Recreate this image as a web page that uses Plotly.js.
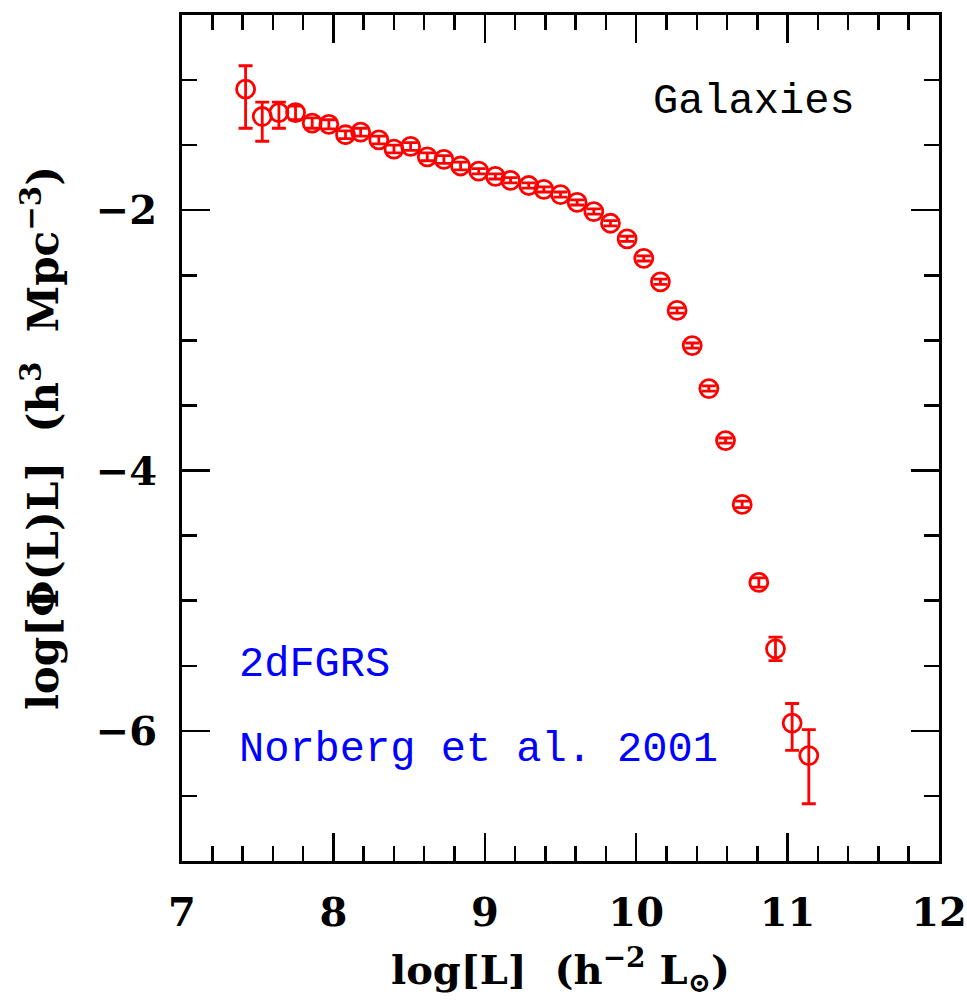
<!DOCTYPE html>
<html>
<head>
<meta charset="utf-8">
<script src="https://cdn.plot.ly/plotly-3.0.1.min.js"></script>
<style>html,body{margin:0;padding:0;background:#fff;}#chart{width:967px;height:1008px;}</style>
</head>
<body>
<div id="chart"></div>
<script>
// log L (h^-2 Lsun)
const logL = [7.42, 7.53, 7.64, 7.75, 7.86, 7.97, 8.08, 8.18, 8.30, 8.40,
              8.51, 8.62, 8.73, 8.84, 8.96, 9.07, 9.17, 9.29, 9.39, 9.50,
              9.61, 9.72, 9.83, 9.94, 10.05, 10.16, 10.27, 10.37, 10.48, 10.59,
              10.70, 10.81, 10.92, 11.03, 11.14];
// log[Phi(L) L] (h^3 Mpc^-3)
const logPhiL = [-1.07, -1.28, -1.25, -1.25, -1.33, -1.34, -1.42, -1.40, -1.46, -1.53,
                 -1.51, -1.59, -1.61, -1.66, -1.70, -1.74, -1.77, -1.81, -1.84, -1.88,
                 -1.94, -2.01, -2.10, -2.22, -2.37, -2.55, -2.77, -3.04, -3.37, -3.77,
                 -4.26, -4.86, -5.37, -5.94, -6.19];
const errPlus = [0.18, 0.11, 0.08, 0.05, 0.04, 0.035, 0.03, 0.03, 0.03, 0.03,
                 0.03, 0.03, 0.03, 0.03, 0.02, 0.02, 0.02, 0.02, 0.02, 0.02,
                 0.02, 0.02, 0.02, 0.02, 0.02, 0.02, 0.02, 0.02, 0.02, 0.02,
                 0.025, 0.035, 0.09, 0.15, 0.20];
const errMinus = [0.30, 0.19, 0.12, 0.055, 0.04, 0.035, 0.03, 0.03, 0.03, 0.03,
                  0.03, 0.03, 0.03, 0.03, 0.02, 0.02, 0.02, 0.02, 0.02, 0.02,
                  0.02, 0.02, 0.02, 0.02, 0.02, 0.02, 0.02, 0.02, 0.02, 0.02,
                  0.025, 0.035, 0.09, 0.21, 0.37];

const xTitle = 'log[L]\u00a0\u00a0(h<sup>\u22122</sup>\u00a0L<sub>\u2299</sub>)';
const yTitle = 'log[\u03A6(L)L]\u00a0\u00a0(h<sup>3</sup>\u00a0\u00a0Mpc<sup>\u22123</sup>)';
const labelTop = 'Galaxies';
const labelSurvey = '2dFGRS';
const labelRef = 'Norberg et al. 2001';

const FONT = '"DejaVu Serif", "Liberation Serif", serif';
const MONO = '"Liberation Mono", "DejaVu Sans Mono", monospace';

const trace = {
  x: logL, y: logPhiL, type: 'scatter', mode: 'markers',
  marker: {symbol: 'circle-open', size: 18, color: '#ff0000', line: {width: 2.8, color: '#ff0000'}},
  error_y: {type: 'data', symmetric: false, array: errPlus, arrayminus: errMinus,
            color: '#ff0000', thickness: 2.8, width: 7},
  hoverinfo: 'skip'
};

const axisCommon = {
  showgrid: false, zeroline: false, showline: true, linewidth: 3, linecolor: '#000',
  mirror: 'allticks', ticks: 'inside', ticklen: 28, tickwidth: 2.5, tickcolor: '#000',
  tickfont: {family: FONT, size: 40, color: '#000', weight: 'bold'}, ticklabelstandoff: 14
};

const layout = {
  width: 967, height: 1008,
  margin: {l: 182, r: 28, t: 15, b: 147},
  paper_bgcolor: '#fff', plot_bgcolor: '#fff',
  showlegend: false,
  xaxis: Object.assign({}, axisCommon, {
    range: [7, 12], tick0: 7, dtick: 1,
    minor: {dtick: 0.2, ticks: 'inside', ticklen: 15, tickwidth: 2.5, tickcolor: '#000'},
    title: {text: xTitle, font: {family: FONT, size: 40, color: '#000', weight: 'bold'}, standoff: 22}
  }),
  yaxis: Object.assign({}, axisCommon, {
    range: [-7, -0.5], tick0: 0, dtick: 2,
    minor: {dtick: 0.5, ticks: 'inside', ticklen: 15, tickwidth: 2.5, tickcolor: '#000'},
    title: {text: yTitle, font: {family: FONT, size: 42, color: '#000', weight: 'bold'}, standoff: 24}
  }),
  annotations: [
    {text: labelTop, xref: 'paper', yref: 'paper', x: 0.892, y: 0.897, xanchor: 'right', yanchor: 'middle',
     showarrow: false, font: {family: MONO, size: 42, color: '#000'}},
    {text: labelSurvey, xref: 'paper', yref: 'paper', x: 0.0727, y: 0.2317, xanchor: 'left', yanchor: 'middle',
     showarrow: false, font: {family: MONO, size: 42, color: '#0000ff'}},
    {text: labelRef, xref: 'paper', yref: 'paper', x: 0.0727, y: 0.131, xanchor: 'left', yanchor: 'middle',
     showarrow: false, font: {family: MONO, size: 42, color: '#0000ff'}}
  ]
};

Plotly.newPlot('chart', [trace], layout, {staticPlot: true, displayModeBar: false});
</script>
</body>
</html>
